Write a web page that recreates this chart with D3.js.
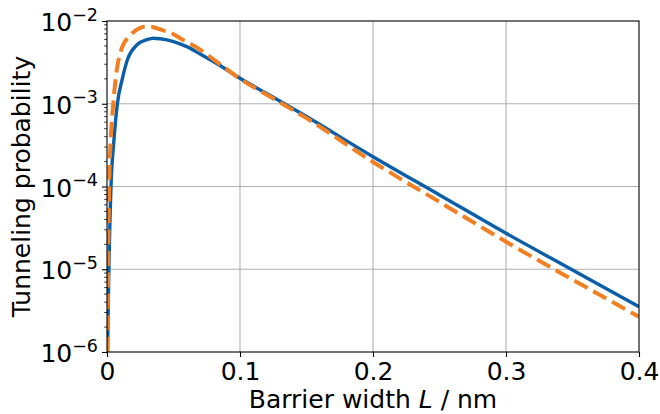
<!DOCTYPE html>
<html>
<head>
<meta charset="utf-8">
<script src="https://cdn.jsdelivr.net/npm/d3@7"></script>
<style>
  body { margin: 0; background: #fff; }
  svg { display: block; font-family: "DejaVu Sans", sans-serif; }
</style>
</head>
<body>
<svg id="chart" width="660" height="414"></svg>
<script>
// barrier width (nm) and tunneling probability
const widthSolid = [0.0004, 0.0014, 0.003, 0.0052, 0.0078, 0.0115, 0.0158, 0.0228, 0.03, 0.035, 0.04, 0.05, 0.06, 0.07, 0.085, 0.1, 0.125, 0.15, 0.2, 0.25, 0.3, 0.35, 0.4];
const probSolid  = [1e-6, 1e-5, 1e-4, 3.6e-4, 1e-3, 2e-3, 3.57e-3, 5.2e-3, 5.95e-3, 6.2e-3, 6.1e-3, 5.65e-3, 4.9e-3, 4.0e-3, 2.9e-3, 2.03e-3, 1.2e-3, 7.0e-4, 2.29e-4, 7.9e-5, 2.72e-5, 9.8e-6, 3.53e-6];

const widthDashed = [0.0003, 0.0008, 0.0016, 0.003, 0.0047, 0.0065, 0.0103, 0.0178, 0.024, 0.029, 0.035, 0.04, 0.048, 0.055, 0.07, 0.085, 0.1, 0.125, 0.15, 0.2, 0.25, 0.3, 0.35, 0.4];
const probDashed  = [1e-6, 1e-5, 1e-4, 4.2e-4, 1e-3, 2e-3, 4.3e-3, 6.8e-3, 8.1e-3, 8.6e-3, 8.4e-3, 7.9e-3, 7.2e-3, 6.2e-3, 4.5e-3, 3.0e-3, 2.0e-3, 1.16e-3, 6.7e-4, 1.98e-4, 6.5e-5, 2.15e-5, 7.5e-6, 2.67e-6];

const xTicks = [0, 0.1, 0.2, 0.3, 0.4];
const xTickLabels = ["0", "0.1", "0.2", "0.3", "0.4"];
const yTicks = [1e-6, 1e-5, 1e-4, 1e-3, 1e-2];
const yTickExponents = ["−6", "−5", "−4", "−3", "−2"];

const margin = {top: 21, right: 21, bottom: 62, left: 107};
const W = 660, H = 414;
const w = W - margin.left - margin.right;
const h = H - margin.top - margin.bottom;
const fs = 25;

const svg = d3.select("#chart");
const g = svg.append("g").attr("transform", `translate(${margin.left},${margin.top})`);

const x = d3.scaleLinear().domain([0, 0.4]).range([0, w]);
const y = d3.scaleLog().domain([1e-6, 1e-2]).range([h, 0]);

// grid
g.append("g").selectAll("line")
  .data(xTicks.slice(1, -1))
  .join("line")
  .attr("x1", d => x(d)).attr("x2", d => x(d))
  .attr("y1", 0).attr("y2", h)
  .attr("stroke", "#b0b0b0").attr("stroke-width", 1.1);
g.append("g").selectAll("line")
  .data(yTicks.slice(1, -1))
  .join("line")
  .attr("x1", 0).attr("x2", w)
  .attr("y1", d => y(d)).attr("y2", d => y(d))
  .attr("stroke", "#b0b0b0").attr("stroke-width", 1.1);

svg.append("defs").append("clipPath").attr("id", "clip")
  .append("rect").attr("width", w).attr("height", h);

const lineSolid = d3.line()
  .x((d, i) => x(widthSolid[i]))
  .y(d => y(d))
  .curve(d3.curveMonotoneX);
const lineDashed = d3.line()
  .x((d, i) => x(widthDashed[i]))
  .y(d => y(d))
  .curve(d3.curveMonotoneX);

const plot = g.append("g").attr("clip-path", "url(#clip)");
plot.append("path")
  .attr("d", lineSolid(probSolid))
  .attr("fill", "none")
  .attr("stroke", "#0b5ea8")
  .attr("stroke-width", 3.4);
plot.append("path")
  .attr("d", lineDashed(probDashed))
  .attr("fill", "none")
  .attr("stroke", "#f28022")
  .attr("stroke-width", 4)
  .attr("stroke-dasharray", "15,6.5");

// axes
const xAxis = g.append("g").attr("transform", `translate(0,${h})`)
  .call(d3.axisBottom(x).tickValues(xTicks).tickFormat((d, i) => xTickLabels[i]).tickSize(5).tickPadding(5));
const yAxis = g.append("g")
  .call(d3.axisLeft(y).tickValues(yTicks).tickFormat("").tickSize(5));

// minor log ticks
const minor = [];
for (let e = -6; e < -2; e++) for (let m = 2; m <= 9; m++) minor.push(m * Math.pow(10, e));
g.append("g").selectAll("line")
  .data(minor)
  .join("line")
  .attr("x1", -2.8).attr("x2", 0)
  .attr("y1", d => y(d)).attr("y2", d => y(d))
  .attr("stroke", "#000").attr("stroke-width", 0.8);

[xAxis, yAxis].forEach(a => {
  a.select(".domain").remove();
  a.selectAll(".tick line").attr("stroke", "#000").attr("stroke-width", 1.1);
});
xAxis.selectAll(".tick text")
  .attr("font-size", fs).attr("fill", "#000")
  .attr("font-family", "DejaVu Sans");

// y tick labels as 10 with superscript
g.append("g").selectAll("text")
  .data(yTicks)
  .join("text")
  .attr("x", -9)
  .attr("y", d => y(d) + 10)
  .attr("text-anchor", "end")
  .attr("font-size", fs)
  .each(function(d, i) {
    const t = d3.select(this);
    t.append("tspan").text("10");
    t.append("tspan").attr("dy", -10.5).attr("font-size", 17.5).text(yTickExponents[i]);
  });

// frame
g.append("rect")
  .attr("width", w).attr("height", h)
  .attr("fill", "none").attr("stroke", "#000").attr("stroke-width", 1.1);

// labels
const xl = svg.append("text")
  .attr("x", margin.left + w / 2)
  .attr("y", 408)
  .attr("text-anchor", "middle")
  .attr("font-size", fs);
xl.append("tspan").text("Barrier width ");
xl.append("tspan").attr("font-style", "italic").text("L");
xl.append("tspan").text(" / nm");

svg.append("text")
  .attr("transform", `translate(30,${margin.top + h / 2}) rotate(-90)`)
  .attr("text-anchor", "middle")
  .attr("font-size", fs)
  .text("Tunneling probability");
</script>
</body>
</html>
